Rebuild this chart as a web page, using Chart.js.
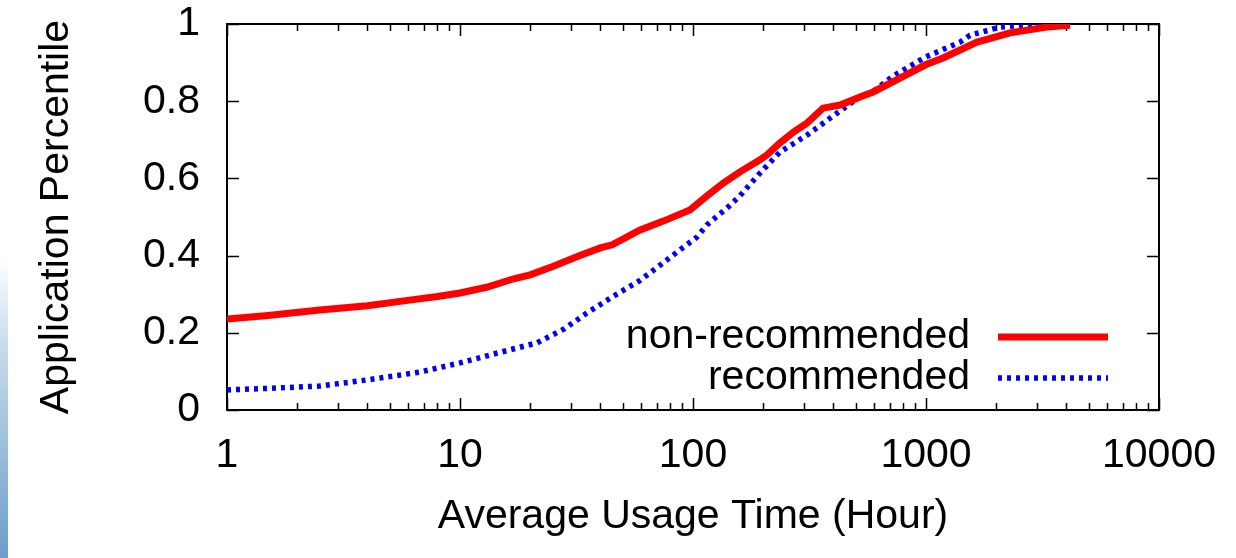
<!DOCTYPE html>
<html><head><meta charset="utf-8">
<script src="https://cdn.jsdelivr.net/npm/chart.js@4/dist/chart.umd.min.js"></script>
<style>
html,body{margin:0;padding:0;background:#fff;}
#wrap{position:relative;width:1236px;height:558px;overflow:hidden;}
#strip{position:absolute;left:0;top:257px;width:8px;height:301px;background:linear-gradient(#ffffff,#c6dbeb 30%,#6c9ec8);}
canvas{position:absolute;left:0;top:0;}
</style></head><body>
<div id="wrap"><div id="strip"></div><canvas id="c" width="1236" height="558"></canvas></div>
<script>
const seriesNames = ['non-recommended', 'recommended'];
const nonRecX = [1, 1.5, 2.5, 4, 6.3, 8, 10, 13, 17, 20, 25, 32.7, 40, 45, 59, 75, 97, 115, 135, 159, 190, 208, 236, 270, 308, 361, 428, 521, 593, 773, 1000, 1183, 1656, 2294, 3305, 4150];
const nonRecY = [0.236, 0.245, 0.259, 0.27, 0.286, 0.294, 0.303, 0.318, 0.34, 0.35, 0.372, 0.40, 0.42, 0.428, 0.466, 0.49, 0.518, 0.555, 0.588, 0.617, 0.645, 0.661, 0.692, 0.72, 0.743, 0.782, 0.79, 0.811, 0.824, 0.86, 0.895, 0.912, 0.953, 0.977, 0.992, 0.997];
const recX = [1, 1.5, 2.5, 4, 6.7, 10, 15, 21.4, 28, 35, 45, 59, 74, 88, 104, 115, 144, 159, 194, 236, 308, 428, 521, 593, 721, 1000, 1400, 1545, 2079, 2600, 3305];
const recY = [0.052, 0.056, 0.062, 0.078, 0.098, 0.122, 0.15, 0.174, 0.21, 0.251, 0.293, 0.335, 0.38, 0.415, 0.448, 0.48, 0.53, 0.555, 0.614, 0.668, 0.712, 0.775, 0.812, 0.825, 0.865, 0.915, 0.953, 0.971, 0.992, 0.997, 1.0];
const xTickValues = [1, 10, 100, 1000, 10000];
const yTickValues = [0, 0.2, 0.4, 0.6, 0.8, 1];
const xTitle = 'Average Usage Time (Hour)';
const yTitle = 'Application Percentile';

const FONT = "'Liberation Sans', Arial, Helvetica, sans-serif";
const FS = 41;

const toPts = (xs, ys) => xs.map((x, i) => ({x: x, y: ys[i]}));

const framePlugin = {
  id: 'frame',
  beforeDatasetsDraw(chart) {
    const {ctx, chartArea: a, scales} = chart;
    const xs = scales.x, ys = scales.y;
    ctx.save();
    ctx.strokeStyle = '#000';
    ctx.lineWidth = 2;
    ctx.strokeRect(a.left, a.top, a.right - a.left, a.bottom - a.top);
    ctx.lineWidth = 1.5;
    ctx.beginPath();
    for (let d = 1; d <= 10000; d *= 10) {
      for (let m = 1; m <= 9; m++) {
        const v = d * m;
        if (v > 10000) break;
        const px = Math.round(xs.getPixelForValue(v)) + 0.5;
        const len = (m === 1) ? 12 : 7;
        ctx.moveTo(px, a.bottom); ctx.lineTo(px, a.bottom - len);
        ctx.moveTo(px, a.top); ctx.lineTo(px, a.top + len);
      }
    }
    yTickValues.forEach(v => {
      const py = Math.round(ys.getPixelForValue(v)) + 0.5;
      ctx.moveTo(a.left, py); ctx.lineTo(a.left + 12, py);
      ctx.moveTo(a.right, py); ctx.lineTo(a.right - 12, py);
    });
    ctx.stroke();
    ctx.restore();
  },
  afterDatasetsDraw(chart) {
    const {ctx, chartArea: a} = chart;
    ctx.save();
    ctx.font = FS + 'px ' + FONT;
    ctx.textAlign = 'right';
    ctx.textBaseline = 'middle';
    const rows = [a.bottom - 73, a.bottom - 32];
    chart.data.datasets.forEach((ds, i) => {
      const y = rows[i];
      ctx.fillStyle = '#000';
      ctx.fillText(ds.label, a.right - 189, y);
      ctx.strokeStyle = ds.borderColor;
      ctx.lineWidth = ds.borderWidth;
      ctx.setLineDash(ds.borderDash || []);
      ctx.beginPath();
      ctx.moveTo(a.right - 161, y);
      ctx.lineTo(a.right - 51, y);
      ctx.stroke();
    });
    ctx.restore();
  }
};

new Chart(document.getElementById('c'), {
  type: 'line',
  data: {
    datasets: [
      { label: seriesNames[0], data: toPts(nonRecX, nonRecY), borderColor: '#ff0000', borderWidth: 7, pointRadius: 0, tension: 0, fill: false, borderCapStyle: 'butt' },
      { label: seriesNames[1], data: toPts(recX, recY), borderColor: '#0000ff', borderWidth: 5.5, borderDash: [4, 5], pointRadius: 0, tension: 0, fill: false, borderCapStyle: 'butt' }
    ]
  },
  options: {
    responsive: false,
    animation: false,
    devicePixelRatio: 1,
    layout: { padding: { left: 0, right: 77, top: 24, bottom: 0 } },
    plugins: { legend: { display: false }, tooltip: { enabled: false } },
    scales: {
      x: {
        type: 'logarithmic', min: 1, max: 10000,
        afterBuildTicks: s => { s.ticks = xTickValues.map(v => ({value: v})); },
        afterFit: s => { s.height = 148; s.paddingLeft = 0; s.paddingRight = 0; },
        grid: { display: false, drawTicks: false },
        border: { display: false },
        ticks: { color: '#000', font: { family: FONT, size: FS }, padding: 21, maxRotation: 0, autoSkip: false, callback: v => String(v) },
        title: { display: true, text: xTitle, color: '#000', font: { family: FONT, size: FS }, padding: { top: 0, bottom: 17 } }
      },
      y: {
        type: 'linear', min: 0, max: 1,
        afterBuildTicks: s => { s.ticks = yTickValues.map(v => ({value: v})); },
        afterFit: s => { s.width = 227; s.paddingTop = 0; s.paddingBottom = 0; },
        grid: { display: false, drawTicks: false },
        border: { display: false },
        ticks: { color: '#000', font: { family: FONT, size: FS }, padding: 27, callback: v => String(v) },
        title: { display: true, text: yTitle, color: '#000', font: { family: FONT, size: FS }, padding: { top: 32, bottom: 0 } }
      }
    }
  },
  plugins: [framePlugin]
});
</script>
</body></html>
